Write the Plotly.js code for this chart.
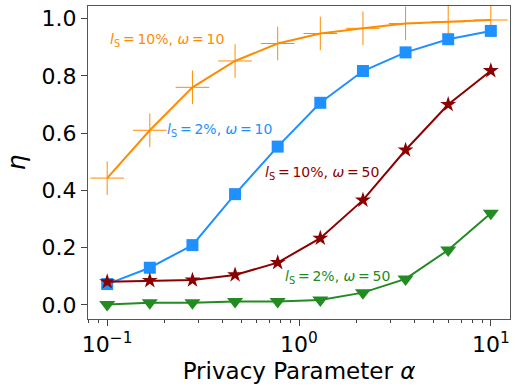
<!DOCTYPE html>
<html><head><meta charset="utf-8">
<script src="https://cdn.plot.ly/plotly-3.0.1.min.js"></script>
<style>html,body{margin:0;padding:0;background:#fff}#c{width:515px;height:388px}</style>
</head><body><div id="c"></div>
<script>
const alpha = [0.1, 0.1668, 0.2783, 0.4642, 0.7743, 1.2915, 2.1544, 3.5938, 5.9948, 10];
const ls10w10 = [0.443, 0.61, 0.76, 0.852, 0.913, 0.948, 0.966, 0.983, 0.989, 0.995];
const ls2w10  = [0.073, 0.13, 0.209, 0.387, 0.553, 0.706, 0.817, 0.882, 0.928, 0.957];
const ls10w50 = [0.081, 0.085, 0.087, 0.105, 0.148, 0.233, 0.366, 0.541, 0.70, 0.818];
const ls2w50  = [0.002, 0.008, 0.008, 0.012, 0.012, 0.017, 0.043, 0.091, 0.192, 0.32];
const xTickVals = [0.1, 1, 10];
const xTickText = ['10<sup>−1</sup>', '10<sup>0</sup>', '10<sup>1</sup>'];
const yTickVals = [0, 0.2, 0.4, 0.6, 0.8, 1.0];
const yTickText = ['0.0', '0.2', '0.4', '0.6', '0.8', '1.0'];
const labels = [
  '<i>l</i><sub>S</sub>\u2009=\u200910%, <i>ω</i>\u2009=\u200910',
  '<i>l</i><sub>S</sub>\u2009=\u20092%, <i>ω</i>\u2009=\u200910',
  '<i>l</i><sub>S</sub>\u2009=\u200910%, <i>ω</i>\u2009=\u200950',
  '<i>l</i><sub>S</sub>\u2009=\u20092%, <i>ω</i>\u2009=\u200950'
];

const F = 'DejaVu Sans, sans-serif';
const traces = [
  {x: alpha, y: ls10w10, mode: 'lines+markers', line: {color: '#ff8c00', width: 2},
   marker: {symbol: 'cross-thin-open', size: 24, line: {color: '#ff8c00', width: 1}}},
  {x: alpha, y: ls2w10, mode: 'lines+markers', line: {color: '#1e90ff', width: 2},
   marker: {symbol: 'square', size: 12, color: '#1e90ff'}},
  {x: alpha, y: ls10w50, mode: 'lines+markers', line: {color: '#8b0000', width: 2},
   marker: {symbol: 'star', size: 12, color: '#8b0000'}},
  {x: alpha, y: ls2w50, mode: 'lines+markers', line: {color: '#228b22', width: 2},
   marker: {symbol: 'triangle-down', size: 14, color: '#228b22'}}
];

const ann = (i, x, y, color) => ({xref: 'x', yref: 'y', x: x, y: y, text: labels[i],
  showarrow: false, xanchor: 'left', yanchor: 'middle', font: {family: F, size: 14, color: color}});

const layout = {
  width: 515, height: 388,
  margin: {l: 88, r: 5, t: 6, b: 69},
  paper_bgcolor: '#fff', plot_bgcolor: '#fff',
  showlegend: false,
  font: {family: F, color: '#000'},
  xaxis: {
    type: 'log', range: [-1.1, 1.1],
    tickmode: 'array', tickvals: xTickVals, ticktext: xTickText,
    ticks: 'outside', ticklen: 6, tickwidth: 1, tickcolor: '#444',
    minor: {dtick: 'D1', ticks: 'outside', ticklen: 3, tickwidth: 1, tickcolor: '#444', showgrid: false},
    showgrid: false, zeroline: false,
    showline: true, mirror: true, linecolor: '#555', linewidth: 1,
    tickfont: {family: F, size: 22, color: '#000'},
    title: {text: 'Privacy Parameter <i>α</i>', font: {family: F, size: 23, color: '#000'}, standoff: 6}
  },
  yaxis: {
    range: [-0.049, 1.044],
    tickmode: 'array', tickvals: yTickVals, ticktext: yTickText,
    ticks: 'outside', ticklen: 6, tickwidth: 1, tickcolor: '#444',
    showgrid: false, zeroline: false,
    showline: true, mirror: true, linecolor: '#555', linewidth: 1,
    tickfont: {family: F, size: 22, color: '#000'},
    title: {text: '<i>η</i>', font: {family: F, size: 25, color: '#000'}, standoff: 8}
  },
  annotations: [
    ann(0, -0.995, 0.925, '#ff8c00'),
    ann(1, -0.698, 0.611, '#1e90ff'),
    ann(2, -0.1875, 0.461, '#8b0000'),
    ann(3, -0.083, 0.098, '#228b22')
  ]
};
Plotly.newPlot('c', traces, layout, {displayModeBar: false, staticPlot: true});
</script></body></html>
